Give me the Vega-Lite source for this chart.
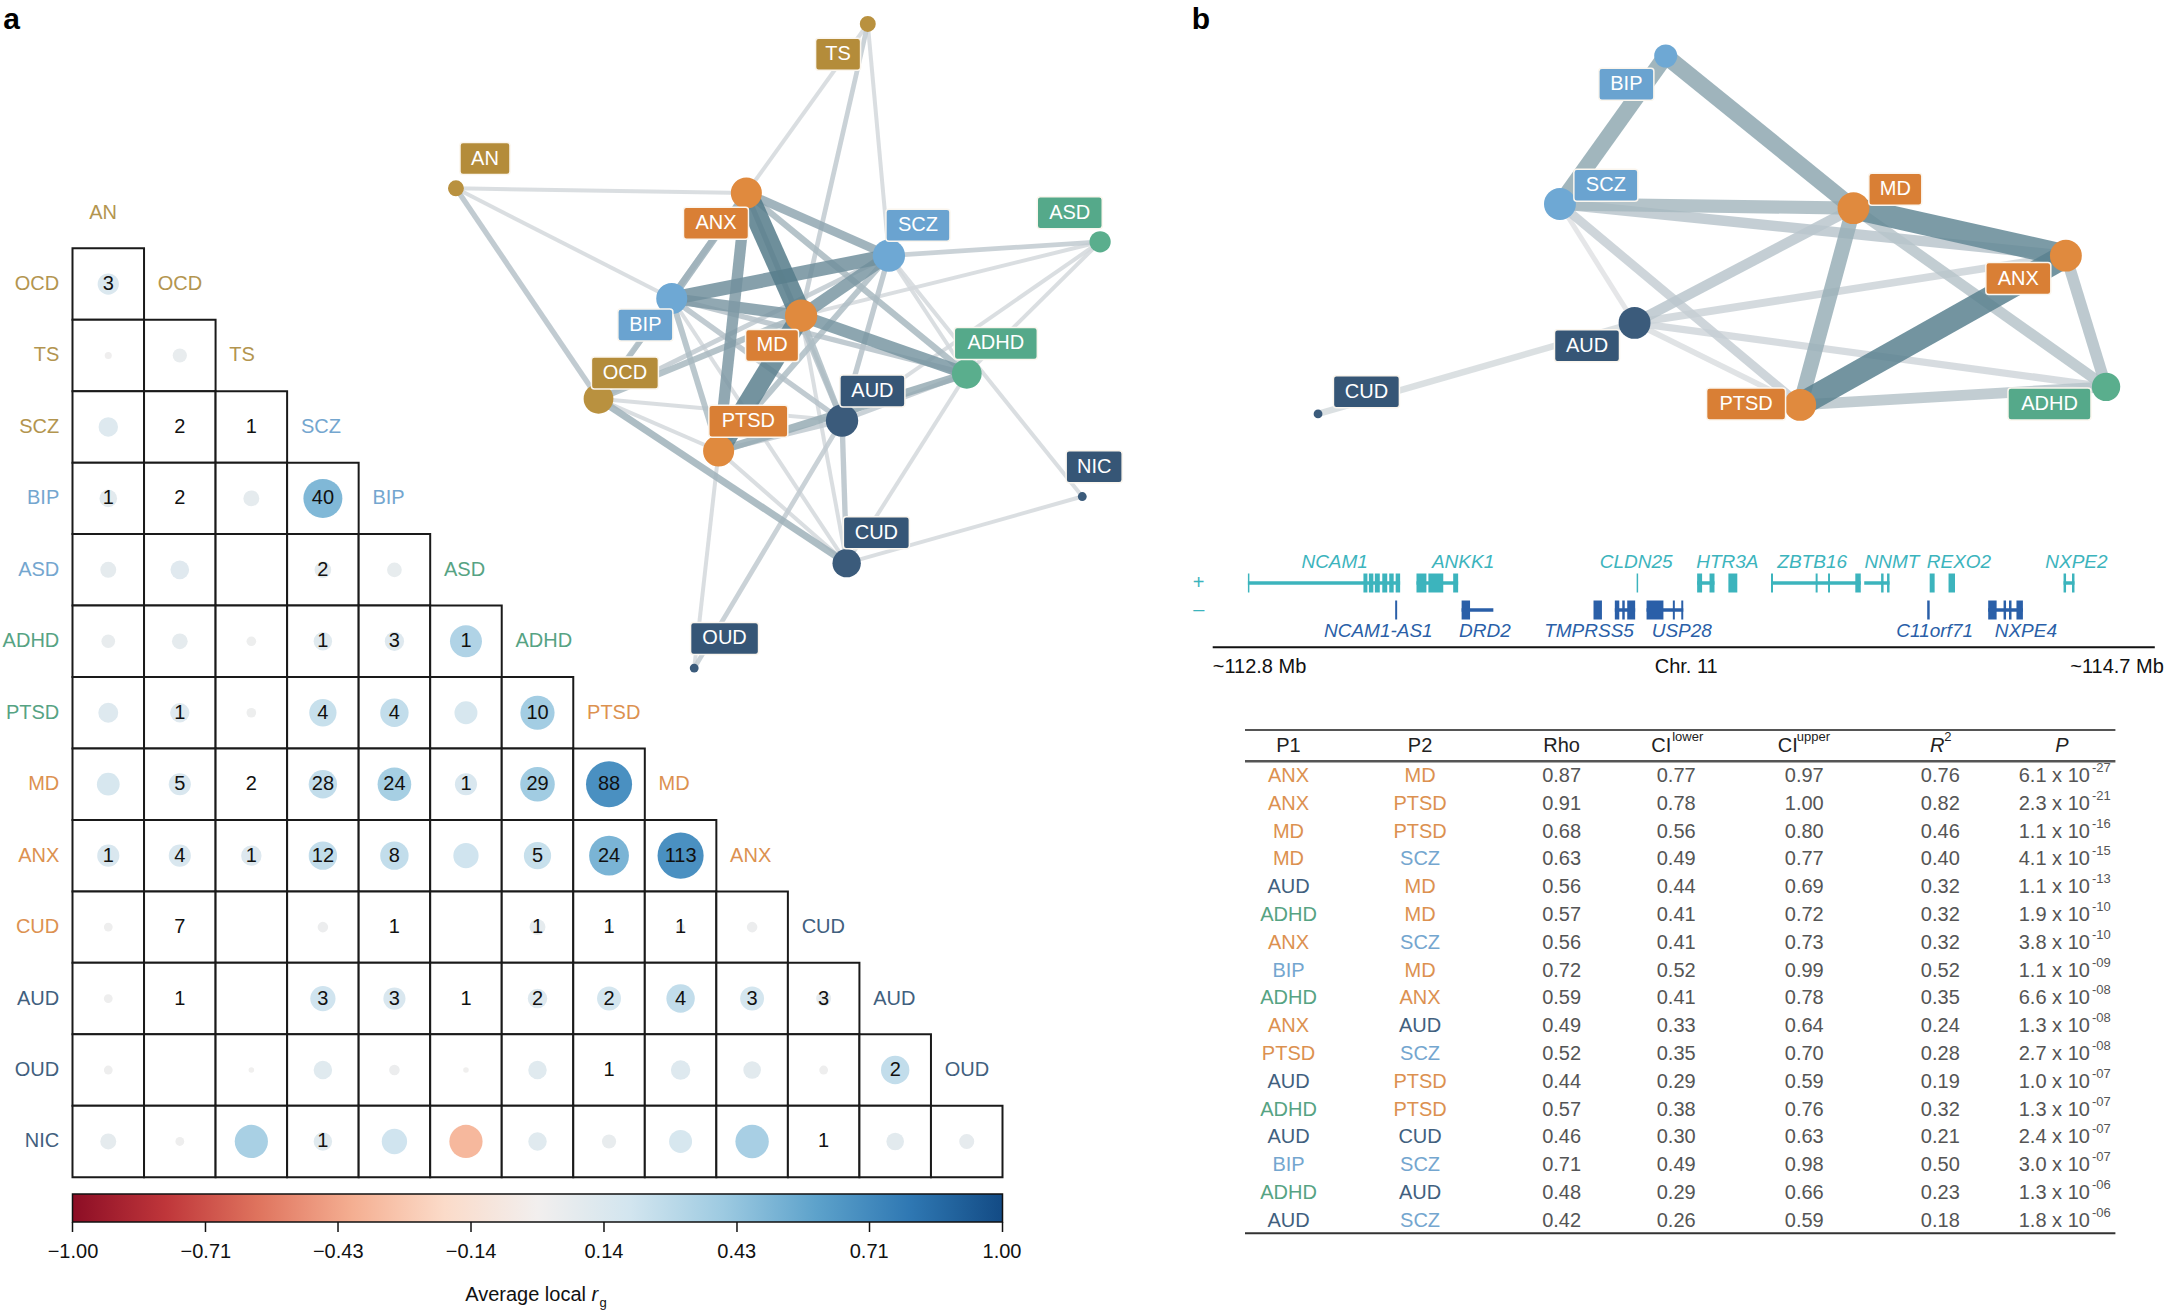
{
"$schema": "https://vega.github.io/schema/vega-lite/v6.json",
"width": 2166, "height": 1312,
"autosize": {"type": "fit", "contains": "padding"},
"padding": 0,
"background": "white",
"config": {"view": {"stroke": null}, "font": "Liberation Sans"},
"datasets": {
"cells": [
{"row":"OCD","col":"AN","n":3,"rg":0.146},
{"row":"TS","col":"AN","n":null,"rg":0.016},
{"row":"TS","col":"OCD","n":null,"rg":0.065},
{"row":"SCZ","col":"AN","n":null,"rg":0.122},
{"row":"SCZ","col":"OCD","n":2,"rg":0.005},
{"row":"SCZ","col":"TS","n":1,"rg":0.004},
{"row":"BIP","col":"AN","n":1,"rg":0.1},
{"row":"BIP","col":"OCD","n":2,"rg":0.005},
{"row":"BIP","col":"TS","n":null,"rg":0.082},
{"row":"BIP","col":"SCZ","n":40,"rg":0.49},
{"row":"ASD","col":"AN","n":null,"rg":0.082},
{"row":"ASD","col":"OCD","n":null,"rg":0.112},
{"row":"ASD","col":"TS","n":null,"rg":null},
{"row":"ASD","col":"SCZ","n":2,"rg":0.09},
{"row":"ASD","col":"BIP","n":null,"rg":0.07},
{"row":"ADHD","col":"AN","n":null,"rg":0.06},
{"row":"ADHD","col":"OCD","n":null,"rg":0.08},
{"row":"ADHD","col":"TS","n":null,"rg":0.03},
{"row":"ADHD","col":"SCZ","n":1,"rg":0.11},
{"row":"ADHD","col":"BIP","n":3,"rg":0.12},
{"row":"ADHD","col":"ASD","n":1,"rg":0.33},
{"row":"PTSD","col":"AN","n":null,"rg":0.128},
{"row":"PTSD","col":"OCD","n":1,"rg":0.12},
{"row":"PTSD","col":"TS","n":null,"rg":0.03},
{"row":"PTSD","col":"SCZ","n":4,"rg":0.24},
{"row":"PTSD","col":"BIP","n":4,"rg":0.26},
{"row":"PTSD","col":"ASD","n":null,"rg":0.17},
{"row":"PTSD","col":"ADHD","n":10,"rg":0.377},
{"row":"MD","col":"AN","n":null,"rg":0.167},
{"row":"MD","col":"OCD","n":5,"rg":0.158},
{"row":"MD","col":"TS","n":2,"rg":0.003},
{"row":"MD","col":"SCZ","n":28,"rg":0.26},
{"row":"MD","col":"BIP","n":24,"rg":0.365},
{"row":"MD","col":"ASD","n":1,"rg":0.158},
{"row":"MD","col":"ADHD","n":29,"rg":0.385},
{"row":"MD","col":"PTSD","n":88,"rg":0.685},
{"row":"ANX","col":"AN","n":1,"rg":0.158},
{"row":"ANX","col":"OCD","n":4,"rg":0.158},
{"row":"ANX","col":"TS","n":1,"rg":0.134},
{"row":"ANX","col":"SCZ","n":12,"rg":0.26},
{"row":"ANX","col":"BIP","n":8,"rg":0.26},
{"row":"ANX","col":"ASD","n":null,"rg":0.206},
{"row":"ANX","col":"ADHD","n":5,"rg":0.24},
{"row":"ANX","col":"PTSD","n":24,"rg":0.51},
{"row":"ANX","col":"MD","n":113,"rg":0.685},
{"row":"CUD","col":"AN","n":null,"rg":0.025},
{"row":"CUD","col":"OCD","n":7,"rg":0.003},
{"row":"CUD","col":"TS","n":null,"rg":null},
{"row":"CUD","col":"SCZ","n":null,"rg":0.036},
{"row":"CUD","col":"BIP","n":1,"rg":0.003},
{"row":"CUD","col":"ASD","n":null,"rg":null},
{"row":"CUD","col":"ADHD","n":1,"rg":0.082},
{"row":"CUD","col":"PTSD","n":1,"rg":0.01},
{"row":"CUD","col":"MD","n":1,"rg":0.02},
{"row":"CUD","col":"ANX","n":null,"rg":0.036},
{"row":"AUD","col":"AN","n":null,"rg":0.025},
{"row":"AUD","col":"OCD","n":1,"rg":0.003},
{"row":"AUD","col":"TS","n":null,"rg":null},
{"row":"AUD","col":"SCZ","n":3,"rg":0.206},
{"row":"AUD","col":"BIP","n":3,"rg":0.158},
{"row":"AUD","col":"ASD","n":1,"rg":0.003},
{"row":"AUD","col":"ADHD","n":2,"rg":0.122},
{"row":"AUD","col":"PTSD","n":2,"rg":0.185},
{"row":"AUD","col":"MD","n":4,"rg":0.26},
{"row":"AUD","col":"ANX","n":3,"rg":0.185},
{"row":"AUD","col":"CUD","n":3,"rg":0.073},
{"row":"OUD","col":"AN","n":null,"rg":0.025},
{"row":"OUD","col":"OCD","n":null,"rg":null},
{"row":"OUD","col":"TS","n":null,"rg":0.01},
{"row":"OUD","col":"SCZ","n":null,"rg":0.11},
{"row":"OUD","col":"BIP","n":null,"rg":0.036},
{"row":"OUD","col":"ASD","n":null,"rg":0.01},
{"row":"OUD","col":"ADHD","n":null,"rg":0.11},
{"row":"OUD","col":"PTSD","n":1,"rg":0.003},
{"row":"OUD","col":"MD","n":null,"rg":0.122},
{"row":"OUD","col":"ANX","n":null,"rg":0.1},
{"row":"OUD","col":"CUD","n":null,"rg":0.025},
{"row":"OUD","col":"AUD","n":2,"rg":0.26},
{"row":"NIC","col":"AN","n":null,"rg":0.082},
{"row":"NIC","col":"OCD","n":null,"rg":0.025},
{"row":"NIC","col":"TS","n":null,"rg":0.356},
{"row":"NIC","col":"SCZ","n":1,"rg":0.11},
{"row":"NIC","col":"BIP","n":null,"rg":0.207},
{"row":"NIC","col":"ASD","n":null,"rg":-0.356},
{"row":"NIC","col":"ADHD","n":null,"rg":0.11},
{"row":"NIC","col":"PTSD","n":null,"rg":0.065},
{"row":"NIC","col":"MD","n":null,"rg":0.17},
{"row":"NIC","col":"ANX","n":null,"rg":0.36},
{"row":"NIC","col":"CUD","n":1,"rg":0.003},
{"row":"NIC","col":"AUD","n":null,"rg":0.1},
{"row":"NIC","col":"OUD","n":null,"rg":0.073}
],
"nodesA": [
{"id":"TS","x":63.3,"y":0.6,"lx":58.8,"ly":5.2,"deg":3},
{"id":"AN","x":0.9,"y":25.5,"lx":5.3,"ly":21.0,"deg":3},
{"id":"ANX","x":44.9,"y":26.2,"lx":40.3,"ly":30.8,"deg":9},
{"id":"SCZ","x":66.5,"y":35.7,"lx":70.9,"ly":31.1,"deg":10},
{"id":"ASD","x":98.5,"y":33.6,"lx":93.9,"ly":29.2,"deg":4},
{"id":"BIP","x":33.6,"y":42.2,"lx":29.6,"ly":46.2,"deg":9},
{"id":"MD","x":53.2,"y":44.8,"lx":48.8,"ly":49.3,"deg":10},
{"id":"ADHD","x":78.3,"y":53.6,"lx":82.7,"ly":49.0,"deg":8},
{"id":"OCD","x":22.5,"y":57.4,"lx":26.5,"ly":53.5,"deg":8},
{"id":"AUD","x":59.4,"y":60.7,"lx":64.0,"ly":56.2,"deg":10},
{"id":"PTSD","x":40.7,"y":65.3,"lx":45.2,"ly":60.8,"deg":9},
{"id":"NIC","x":95.8,"y":72.2,"lx":97.6,"ly":67.7,"deg":2},
{"id":"CUD","x":60.1,"y":82.3,"lx":64.6,"ly":77.7,"deg":7},
{"id":"OUD","x":37.0,"y":98.2,"lx":41.6,"ly":93.7,"deg":2}
],
"nodesB": [
{"id":"BIP","x":44.6,"y":1.95,"lx":39.8,"ly":5.4,"deg":2},
{"id":"SCZ","x":31.7,"y":20.0,"lx":37.3,"ly":17.7,"deg":5},
{"id":"MD","x":67.5,"y":20.5,"lx":72.6,"ly":18.2,"deg":6},
{"id":"ANX","x":93.4,"y":26.3,"lx":87.6,"ly":29.1,"deg":5},
{"id":"AUD","x":40.8,"y":34.5,"lx":35.0,"ly":37.3,"deg":6},
{"id":"ADHD","x":98.3,"y":42.3,"lx":91.4,"ly":44.4,"deg":4},
{"id":"PTSD","x":61.0,"y":44.5,"lx":54.4,"ly":44.4,"deg":5},
{"id":"CUD","x":2.2,"y":45.6,"lx":8.1,"ly":42.9,"deg":1}
],
"tbl": [
{"p1":"ANX","p2":"MD","rho":0.87,"lo":0.77,"hi":0.97,"r2":0.76,"pm":6.1,"pe":-27},
{"p1":"ANX","p2":"PTSD","rho":0.91,"lo":0.78,"hi":1.00,"r2":0.82,"pm":2.3,"pe":-21},
{"p1":"MD","p2":"PTSD","rho":0.68,"lo":0.56,"hi":0.80,"r2":0.46,"pm":1.1,"pe":-16},
{"p1":"MD","p2":"SCZ","rho":0.63,"lo":0.49,"hi":0.77,"r2":0.40,"pm":4.1,"pe":-15},
{"p1":"AUD","p2":"MD","rho":0.56,"lo":0.44,"hi":0.69,"r2":0.32,"pm":1.1,"pe":-13},
{"p1":"ADHD","p2":"MD","rho":0.57,"lo":0.41,"hi":0.72,"r2":0.32,"pm":1.9,"pe":-10},
{"p1":"ANX","p2":"SCZ","rho":0.56,"lo":0.41,"hi":0.73,"r2":0.32,"pm":3.8,"pe":-10},
{"p1":"BIP","p2":"MD","rho":0.72,"lo":0.52,"hi":0.99,"r2":0.52,"pm":1.1,"pe":-9},
{"p1":"ADHD","p2":"ANX","rho":0.59,"lo":0.41,"hi":0.78,"r2":0.35,"pm":6.6,"pe":-8},
{"p1":"ANX","p2":"AUD","rho":0.49,"lo":0.33,"hi":0.64,"r2":0.24,"pm":1.3,"pe":-8},
{"p1":"PTSD","p2":"SCZ","rho":0.52,"lo":0.35,"hi":0.70,"r2":0.28,"pm":2.7,"pe":-8},
{"p1":"AUD","p2":"PTSD","rho":0.44,"lo":0.29,"hi":0.59,"r2":0.19,"pm":1.0,"pe":-7},
{"p1":"ADHD","p2":"PTSD","rho":0.57,"lo":0.38,"hi":0.76,"r2":0.32,"pm":1.3,"pe":-7},
{"p1":"AUD","p2":"CUD","rho":0.46,"lo":0.30,"hi":0.63,"r2":0.21,"pm":2.4,"pe":-7},
{"p1":"BIP","p2":"SCZ","rho":0.71,"lo":0.49,"hi":0.98,"r2":0.50,"pm":3.0,"pe":-7},
{"p1":"ADHD","p2":"AUD","rho":0.48,"lo":0.29,"hi":0.66,"r2":0.23,"pm":1.3,"pe":-6},
{"p1":"AUD","p2":"SCZ","rho":0.42,"lo":0.26,"hi":0.59,"r2":0.18,"pm":1.8,"pe":-6}
],
"genes": [
{"gene":"NCAM1","strand":"plus","kind":"line","s":112.871,"e":113.178},
{"gene":"ANKK1","strand":"plus","kind":"line","s":113.211,"e":113.295},
{"gene":"HTR3A","strand":"plus","kind":"line","s":113.777,"e":113.812},
{"gene":"ZBTB16","strand":"plus","kind":"line","s":113.926,"e":114.107},
{"gene":"NNMT","strand":"plus","kind":"line","s":114.114,"e":114.165},
{"gene":"NXPE2","strand":"plus","kind":"line","s":114.516,"e":114.538},
{"gene":"NCAM1","strand":"plus","kind":"exon","s":112.871,"e":112.874},
{"gene":"NCAM1","strand":"plus","kind":"exon","s":113.104,"e":113.112},
{"gene":"NCAM1","strand":"plus","kind":"exon","s":113.115,"e":113.124},
{"gene":"NCAM1","strand":"plus","kind":"exon","s":113.127,"e":113.137},
{"gene":"NCAM1","strand":"plus","kind":"exon","s":113.142,"e":113.152},
{"gene":"NCAM1","strand":"plus","kind":"exon","s":113.156,"e":113.165},
{"gene":"NCAM1","strand":"plus","kind":"exon","s":113.169,"e":113.178},
{"gene":"ANKK1","strand":"plus","kind":"exon","s":113.211,"e":113.231},
{"gene":"ANKK1","strand":"plus","kind":"exon","s":113.235,"e":113.265},
{"gene":"ANKK1","strand":"plus","kind":"exon","s":113.285,"e":113.295},
{"gene":"CLDN25","strand":"plus","kind":"exon","s":113.655,"e":113.658},
{"gene":"HTR3A","strand":"plus","kind":"exon","s":113.777,"e":113.787},
{"gene":"HTR3A","strand":"plus","kind":"exon","s":113.802,"e":113.812},
{"gene":"HTR3B","strand":"plus","kind":"exon","s":113.840,"e":113.858},
{"gene":"ZBTB16","strand":"plus","kind":"exon","s":113.926,"e":113.930},
{"gene":"ZBTB16","strand":"plus","kind":"exon","s":114.016,"e":114.020},
{"gene":"ZBTB16","strand":"plus","kind":"exon","s":114.041,"e":114.045},
{"gene":"ZBTB16","strand":"plus","kind":"exon","s":114.096,"e":114.107},
{"gene":"NNMT","strand":"plus","kind":"exon","s":114.148,"e":114.153},
{"gene":"NNMT","strand":"plus","kind":"exon","s":114.160,"e":114.165},
{"gene":"REXO2","strand":"plus","kind":"exon","s":114.246,"e":114.256},
{"gene":"REXO2","strand":"plus","kind":"exon","s":114.284,"e":114.297},
{"gene":"NXPE2","strand":"plus","kind":"exon","s":114.516,"e":114.521},
{"gene":"NXPE2","strand":"plus","kind":"exon","s":114.533,"e":114.538},
{"gene":"DRD2","strand":"minus","kind":"line","s":113.302,"e":113.366},
{"gene":"TMPRSS5","strand":"minus","kind":"line","s":113.611,"e":113.652},
{"gene":"USP28","strand":"minus","kind":"line","s":113.675,"e":113.749},
{"gene":"NXPE4","strand":"minus","kind":"line","s":114.364,"e":114.434},
{"gene":"NCAM1-AS1","strand":"minus","kind":"exon","s":113.168,"e":113.172},
{"gene":"DRD2","strand":"minus","kind":"exon","s":113.302,"e":113.319},
{"gene":"TMPRSS5","strand":"minus","kind":"exon","s":113.568,"e":113.585},
{"gene":"TMPRSS5","strand":"minus","kind":"exon","s":113.611,"e":113.620},
{"gene":"TMPRSS5","strand":"minus","kind":"exon","s":113.626,"e":113.631},
{"gene":"TMPRSS5","strand":"minus","kind":"exon","s":113.636,"e":113.652},
{"gene":"USP28","strand":"minus","kind":"exon","s":113.675,"e":113.709},
{"gene":"USP28","strand":"minus","kind":"exon","s":113.728,"e":113.732},
{"gene":"USP28","strand":"minus","kind":"exon","s":113.745,"e":113.749},
{"gene":"C11orf71","strand":"minus","kind":"exon","s":114.241,"e":114.246},
{"gene":"NXPE4","strand":"minus","kind":"exon","s":114.364,"e":114.381},
{"gene":"NXPE4","strand":"minus","kind":"exon","s":114.395,"e":114.400},
{"gene":"NXPE4","strand":"minus","kind":"exon","s":114.406,"e":114.411},
{"gene":"NXPE4","strand":"minus","kind":"exon","s":114.421,"e":114.434}
],
"geneLabels": [
{"gene":"NCAM1","strand":"plus","pos":113.046},
{"gene":"ANKK1","strand":"plus","pos":113.305},
{"gene":"CLDN25","strand":"plus","pos":113.654},
{"gene":"HTR3A","strand":"plus","pos":113.838},
{"gene":"ZBTB16","strand":"plus","pos":114.009},
{"gene":"NNMT","strand":"plus","pos":114.170},
{"gene":"REXO2","strand":"plus","pos":114.305},
{"gene":"NXPE2","strand":"plus","pos":114.542},
{"gene":"NCAM1-AS1","strand":"minus","pos":113.134},
{"gene":"DRD2","strand":"minus","pos":113.349},
{"gene":"TMPRSS5","strand":"minus","pos":113.559},
{"gene":"USP28","strand":"minus","pos":113.746},
{"gene":"C11orf71","strand":"minus","pos":114.256},
{"gene":"NXPE4","strand":"minus","pos":114.440}
],
"barTicks": [{"v": -1}, {"v": -0.714}, {"v": -0.429}, {"v": -0.143}, {"v": 0.143}, {"v": 0.429}, {"v": 0.714}, {"v": 1}]
},
"resolve": {"scale": {"x": "independent", "y": "independent", "color": "independent", "size": "independent", "strokeWidth": "independent", "shape": "independent"}},
"layer": [
{
"resolve": {"scale": {"color": "independent"}},
"layer": [
{"data": {"name": "cells"},
 "mark": {"type": "rect", "fill": "white", "stroke": "#1a1a1a", "strokeWidth": 2},
 "encoding": {
  "x": {"field": "col", "type": "nominal", "axis": null, "scale": {"type": "band", "domain": ["AN","OCD","TS","SCZ","BIP","ASD","ADHD","PTSD","MD","ANX","CUD","AUD","OUD"], "range": [72.5, 1002.5], "paddingInner": 0, "paddingOuter": 0}},
  "y": {"field": "row", "type": "nominal", "axis": null, "scale": {"type": "band", "domain": ["OCD","TS","SCZ","BIP","ASD","ADHD","PTSD","MD","ANX","CUD","AUD","OUD","NIC"], "range": [248.3, 1177.2], "paddingInner": 0, "paddingOuter": 0}}
 }},
{"data": {"name": "cells"},
 "transform": [{"filter": "isValid(datum.rg)"}, {"calculate": "abs(datum.rg)", "as": "mag"}],
 "mark": {"type": "circle", "opacity": 1},
 "encoding": {
  "x": {"field": "col", "type": "nominal", "axis": null, "scale": {"type": "band", "domain": ["AN","OCD","TS","SCZ","BIP","ASD","ADHD","PTSD","MD","ANX","CUD","AUD","OUD"], "range": [72.5, 1002.5], "paddingInner": 0, "paddingOuter": 0}},
  "y": {"field": "row", "type": "nominal", "axis": null, "scale": {"type": "band", "domain": ["OCD","TS","SCZ","BIP","ASD","ADHD","PTSD","MD","ANX","CUD","AUD","OUD","NIC"], "range": [248.3, 1177.2], "paddingInner": 0, "paddingOuter": 0}},
  "size": {"field": "mag", "type": "quantitative", "scale": {"domain": [0, 1], "range": [0, 3100]}, "legend": null},
  "color": {"field": "rg", "type": "quantitative", "scale": {"domain": [-1.001, 1.001], "scheme": "redblue"},
   "legend": {"orient": "none", "legendX": 72.5, "legendY": 1194, "direction": "horizontal", "gradientLength": 930, "gradientThickness": 28, "gradientStrokeColor": "#111", "gradientStrokeWidth": 1.5, "values": [-1, -0.714, -0.429, -0.143, 0.143, 0.429, 0.714, 1], "format": ".2f", "labelFontSize": 20, "labelColor": "#111", "labelOffset": 20, "labelOverlap": false, "title": null, "padding": 0}}
 }},
{"data": {"name": "cells"},
 "transform": [{"filter": "isValid(datum.n)"}],
 "mark": {"type": "text", "fontSize": 20, "color": "#111"},
 "encoding": {
  "x": {"field": "col", "type": "nominal", "axis": null, "scale": {"type": "band", "domain": ["AN","OCD","TS","SCZ","BIP","ASD","ADHD","PTSD","MD","ANX","CUD","AUD","OUD"], "range": [72.5, 1002.5], "paddingInner": 0, "paddingOuter": 0}},
  "y": {"field": "row", "type": "nominal", "axis": null, "scale": {"type": "band", "domain": ["OCD","TS","SCZ","BIP","ASD","ADHD","PTSD","MD","ANX","CUD","AUD","OUD","NIC"], "range": [248.3, 1177.2], "paddingInner": 0, "paddingOuter": 0}},
  "text": {"field": "n", "type": "quantitative"}
 }},
{"data": {"name": "cells"},
 "transform": [{"filter": "datum.col == 'AN'"}],
 "mark": {"type": "text", "fontSize": 20, "align": "right", "dx": -49},
 "encoding": {
  "x": {"field": "col", "type": "nominal", "axis": null, "scale": {"type": "band", "domain": ["AN","OCD","TS","SCZ","BIP","ASD","ADHD","PTSD","MD","ANX","CUD","AUD","OUD"], "range": [72.5, 1002.5], "paddingInner": 0, "paddingOuter": 0}},
  "y": {"field": "row", "type": "nominal", "axis": null, "scale": {"type": "band", "domain": ["OCD","TS","SCZ","BIP","ASD","ADHD","PTSD","MD","ANX","CUD","AUD","OUD","NIC"], "range": [248.3, 1177.2], "paddingInner": 0, "paddingOuter": 0}},
  "text": {"field": "row"},
  "color": {"field": "row", "type": "nominal", "legend": null, "scale": {"domain": ["OCD","TS","SCZ","BIP","ASD","ADHD","PTSD","MD","ANX","CUD","AUD","OUD","NIC"], "range": ["#b3954f","#b3954f","#b3954f","#74a6cf","#74a6cf","#56a383","#56a383","#dc9150","#dc9150","#dc9150","#41607e","#41607e","#41607e"]}}
 }},
{"data": {"name": "cells"},
 "transform": [{"filter": "datum.row == 'NIC' && datum.col != 'AN'"}],
 "mark": {"type": "text", "fontSize": 20, "align": "left", "dx": -22},
 "encoding": {
  "x": {"field": "col", "type": "nominal", "axis": null, "scale": {"type": "band", "domain": ["AN","OCD","TS","SCZ","BIP","ASD","ADHD","PTSD","MD","ANX","CUD","AUD","OUD"], "range": [72.5, 1002.5], "paddingInner": 0, "paddingOuter": 0}},
  "y": {"field": "col", "type": "nominal", "axis": null, "scale": {"type": "band", "domain": ["OCD","TS","SCZ","BIP","ASD","ADHD","PTSD","MD","ANX","CUD","AUD","OUD","NIC"], "range": [248.3, 1177.2], "paddingInner": 0, "paddingOuter": 0}},
  "text": {"field": "col"},
  "color": {"field": "col", "type": "nominal", "legend": null, "scale": {"domain": ["AN","OCD","TS","SCZ","BIP","ASD","ADHD","PTSD","MD","ANX","CUD","AUD","OUD","NIC"], "range": ["#b3954f","#b3954f","#b3954f","#74a6cf","#74a6cf","#56a383","#56a383","#dc9150","#dc9150","#dc9150","#41607e","#41607e","#41607e","#41607e"]}}
 }},
{"data": {"name": "cells"},
 "transform": [{"filter": "datum.row == 'OCD' && datum.col == 'AN'"}],
 "mark": {"type": "text", "fontSize": 20, "align": "left", "dx": -19, "dy": -71.5, "color": "#b3954f"},
 "encoding": {
  "x": {"field": "col", "type": "nominal", "axis": null, "scale": {"type": "band", "domain": ["AN","OCD","TS","SCZ","BIP","ASD","ADHD","PTSD","MD","ANX","CUD","AUD","OUD"], "range": [72.5, 1002.5], "paddingInner": 0, "paddingOuter": 0}},
  "y": {"field": "row", "type": "nominal", "axis": null, "scale": {"type": "band", "domain": ["OCD","TS","SCZ","BIP","ASD","ADHD","PTSD","MD","ANX","CUD","AUD","OUD","NIC"], "range": [248.3, 1177.2], "paddingInner": 0, "paddingOuter": 0}},
  "text": {"field": "col"}
 }}
]
},
{
"layer": [
{"data": {"name": "barTicks"},
 "mark": {"type": "rule", "strokeWidth": 1.5, "color": "#111"},
 "encoding": {
  "x": {"field": "v", "type": "quantitative", "axis": null, "scale": {"domain": [-1, 1], "range": [72.5, 1002.5], "nice": false, "zero": false}},
  "y": {"datum": 0, "type": "quantitative", "axis": null, "scale": {"domain": [0, 1], "range": [1222, 1232], "nice": false, "zero": false}},
  "y2": {"datum": 1}
 }},
{"data": {"values": [{"t": "Average local"}]},
 "mark": {"type": "text", "fontSize": 20, "align": "right", "dx": 48.5, "color": "#111"},
 "encoding": {
  "x": {"datum": 0, "type": "quantitative", "axis": null, "scale": {"domain": [-1, 1], "range": [72.5, 1002.5], "nice": false, "zero": false}},
  "y": {"datum": 7.3, "type": "quantitative", "axis": null, "scale": {"domain": [0, 1], "range": [1222, 1232], "nice": false, "zero": false}},
  "text": {"field": "t"}
 }},
{"data": {"values": [{"t": "r"}]},
 "mark": {"type": "text", "fontSize": 20, "fontStyle": "italic", "align": "left", "dx": 54, "color": "#111"},
 "encoding": {
  "x": {"datum": 0, "type": "quantitative", "axis": null, "scale": {"domain": [-1, 1], "range": [72.5, 1002.5], "nice": false, "zero": false}},
  "y": {"datum": 7.3, "type": "quantitative", "axis": null, "scale": {"domain": [0, 1], "range": [1222, 1232], "nice": false, "zero": false}},
  "text": {"field": "t"}
 }},
{"data": {"values": [{"t": "g"}]},
 "mark": {"type": "text", "fontSize": 13, "align": "left", "dx": 62, "color": "#111"},
 "encoding": {
  "x": {"datum": 0, "type": "quantitative", "axis": null, "scale": {"domain": [-1, 1], "range": [72.5, 1002.5], "nice": false, "zero": false}},
  "y": {"datum": 8.1, "type": "quantitative", "axis": null, "scale": {"domain": [0, 1], "range": [1222, 1232], "nice": false, "zero": false}},
  "text": {"field": "t"}
 }}
]
},
{
"resolve": {"scale": {"color": "independent", "size": "independent"}},
"layer": [
{"data": {"name": "cells"},
 "transform": [{"filter": "isValid(datum.n)"},
  {"lookup": "row", "from": {"data": {"name": "nodesA"}, "key": "id", "fields": ["x", "y"]}, "as": ["rx", "ry"]},
  {"lookup": "col", "from": {"data": {"name": "nodesA"}, "key": "id", "fields": ["x", "y"]}, "as": ["cx", "cy"]}],
 "mark": {"type": "rule", "opacity": 0.85, "strokeCap": "butt"},
 "encoding": {
  "x": {"field": "rx", "type": "quantitative", "axis": null, "scale": {"domain": [0, 100], "range": [450, 1110], "nice": false, "zero": false}},
  "y": {"field": "ry", "type": "quantitative", "axis": null, "scale": {"domain": [0, 100], "range": [20, 680], "nice": false, "zero": false}},
  "x2": {"field": "cx"}, "y2": {"field": "cy"},
  "strokeWidth": {"field": "n", "type": "quantitative", "legend": null, "scale": {"type": "sqrt", "domain": [1, 113], "range": [4, 22], "zero": false}},
  "color": {"field": "n", "type": "quantitative", "legend": null, "scale": {"type": "log", "domain": [1, 113], "range": ["#d3d8dc", "#557b8a"], "interpolate": "rgb"}},
  "order": {"field": "n", "type": "quantitative"}
 }},
{"data": {"name": "nodesA"},
 "mark": {"type": "circle", "opacity": 1},
 "encoding": {
  "x": {"field": "x", "type": "quantitative", "axis": null, "scale": {"domain": [0, 100], "range": [450, 1110], "nice": false, "zero": false}},
  "y": {"field": "y", "type": "quantitative", "axis": null, "scale": {"domain": [0, 100], "range": [20, 680], "nice": false, "zero": false}},
  "color": {"field": "id", "type": "nominal", "legend": null, "scale": {"domain": ["AN","OCD","TS","SCZ","BIP","ASD","ADHD","PTSD","MD","ANX","CUD","AUD","OUD","NIC"], "range": ["#b9913f","#b9913f","#b9913f","#6ea8d4","#6ea8d4","#5aae8d","#5aae8d","#e08a3e","#e08a3e","#e08a3e","#3b5b7b","#3b5b7b","#3b5b7b","#3b5b7b"]}},
  "size": {"field": "deg", "type": "quantitative", "legend": null, "scale": {"domain": [2, 3, 4, 7, 10], "range": [78, 254, 452, 804, 1046]}}
 }},
{"data": {"name": "nodesA"},
 "mark": {"type": "point", "filled": true, "size": 1600, "opacity": 1, "stroke": "#fbf6ee", "strokeWidth": 1.5, "strokeOpacity": 1},
 "encoding": {
  "x": {"field": "lx", "type": "quantitative", "axis": null, "scale": {"domain": [0, 100], "range": [450, 1110], "nice": false, "zero": false}},
  "y": {"field": "ly", "type": "quantitative", "axis": null, "scale": {"domain": [0, 100], "range": [20, 680], "nice": false, "zero": false}},
  "color": {"field": "id", "type": "nominal", "legend": null, "scale": {"domain": ["AN","OCD","TS","SCZ","BIP","ASD","ADHD","PTSD","MD","ANX","CUD","AUD","OUD","NIC"], "range": ["#b48c3a","#b48c3a","#b48c3a","#6aa3d0","#6aa3d0","#55a98a","#55a98a","#d97f35","#d97f35","#d97f35","#365676","#365676","#365676","#365676"]}},
  "shape": {"field": "id", "type": "nominal", "legend": null, "scale": {"domain": ["AN","OCD","TS","SCZ","BIP","ASD","ADHD","PTSD","MD","ANX","CUD","AUD","OUD","NIC"], "range": [
   "M-1.1,-0.8H1.1Q1.25,-0.8 1.25,-0.65V0.65Q1.25,0.8 1.1,0.8H-1.1Q-1.25,0.8 -1.25,0.65V-0.65Q-1.25,-0.8 -1.1,-0.8Z",
   "M-1.525,-0.8H1.525Q1.675,-0.8 1.675,-0.65V0.65Q1.675,0.8 1.525,0.8H-1.525Q-1.675,0.8 -1.675,0.65V-0.65Q-1.675,-0.8 -1.525,-0.8Z",
   "M-0.975,-0.8H0.975Q1.125,-0.8 1.125,-0.65V0.65Q1.125,0.8 0.975,0.8H-0.975Q-1.125,0.8 -1.125,0.65V-0.65Q-1.125,-0.8 -0.975,-0.8Z",
   "M-1.45,-0.8H1.45Q1.6,-0.8 1.6,-0.65V0.65Q1.6,0.8 1.45,0.8H-1.45Q-1.6,0.8 -1.6,0.65V-0.65Q-1.6,-0.8 -1.45,-0.8Z",
   "M-1.225,-0.8H1.225Q1.375,-0.8 1.375,-0.65V0.65Q1.375,0.8 1.225,0.8H-1.225Q-1.375,0.8 -1.375,0.65V-0.65Q-1.375,-0.8 -1.225,-0.8Z",
   "M-1.475,-0.8H1.475Q1.625,-0.8 1.625,-0.65V0.65Q1.625,0.8 1.475,0.8H-1.475Q-1.625,0.8 -1.625,0.65V-0.65Q-1.625,-0.8 -1.475,-0.8Z",
   "M-1.925,-0.8H1.925Q2.075,-0.8 2.075,-0.65V0.65Q2.075,0.8 1.925,0.8H-1.925Q-2.075,0.8 -2.075,0.65V-0.65Q-2.075,-0.8 -1.925,-0.8Z",
   "M-1.825,-0.8H1.825Q1.975,-0.8 1.975,-0.65V0.65Q1.975,0.8 1.825,0.8H-1.825Q-1.975,0.8 -1.975,0.65V-0.65Q-1.975,-0.8 -1.825,-0.8Z",
   "M-1.175,-0.8H1.175Q1.325,-0.8 1.325,-0.65V0.65Q1.325,0.8 1.175,0.8H-1.175Q-1.325,0.8 -1.325,0.65V-0.65Q-1.325,-0.8 -1.175,-0.8Z",
   "M-1.475,-0.8H1.475Q1.625,-0.8 1.625,-0.65V0.65Q1.625,0.8 1.475,0.8H-1.475Q-1.625,0.8 -1.625,0.65V-0.65Q-1.625,-0.8 -1.475,-0.8Z",
   "M-1.5,-0.8H1.5Q1.65,-0.8 1.65,-0.65V0.65Q1.65,0.8 1.5,0.8H-1.5Q-1.65,0.8 -1.65,0.65V-0.65Q-1.65,-0.8 -1.5,-0.8Z",
   "M-1.475,-0.8H1.475Q1.625,-0.8 1.625,-0.65V0.65Q1.625,0.8 1.475,0.8H-1.475Q-1.625,0.8 -1.625,0.65V-0.65Q-1.625,-0.8 -1.475,-0.8Z",
   "M-1.55,-0.8H1.55Q1.7,-0.8 1.7,-0.65V0.65Q1.7,0.8 1.55,0.8H-1.55Q-1.7,0.8 -1.7,0.65V-0.65Q-1.7,-0.8 -1.55,-0.8Z",
   "M-1.25,-0.8H1.25Q1.4,-0.8 1.4,-0.65V0.65Q1.4,0.8 1.25,0.8H-1.25Q-1.4,0.8 -1.4,0.65V-0.65Q-1.4,-0.8 -1.25,-0.8Z"]}}
 }},
{"data": {"name": "nodesA"},
 "mark": {"type": "text", "fontSize": 20, "color": "white"},
 "encoding": {
  "x": {"field": "lx", "type": "quantitative", "axis": null, "scale": {"domain": [0, 100], "range": [450, 1110], "nice": false, "zero": false}},
  "y": {"field": "ly", "type": "quantitative", "axis": null, "scale": {"domain": [0, 100], "range": [20, 680], "nice": false, "zero": false}},
  "text": {"field": "id"}
 }},
{"data": {"values": [{"t": "a"}]},
 "mark": {"type": "text", "fontSize": 30, "fontWeight": "bold", "align": "left", "baseline": "alphabetic", "color": "black"},
 "encoding": {
  "x": {"datum": -67.7, "type": "quantitative", "axis": null, "scale": {"domain": [0, 100], "range": [450, 1110], "nice": false, "zero": false}},
  "y": {"datum": 1.36, "type": "quantitative", "axis": null, "scale": {"domain": [0, 100], "range": [20, 680], "nice": false, "zero": false}},
  "text": {"field": "t"}
 }}
]
},
{
"resolve": {"scale": {"color": "independent", "size": "independent"}},
"layer": [
{"data": {"name": "tbl"},
 "transform": [
  {"lookup": "p1", "from": {"data": {"name": "nodesB"}, "key": "id", "fields": ["x", "y"]}, "as": ["ax", "ay"]},
  {"lookup": "p2", "from": {"data": {"name": "nodesB"}, "key": "id", "fields": ["x", "y"]}, "as": ["bx", "by"]}],
 "mark": {"type": "rule", "opacity": 0.85, "strokeCap": "butt"},
 "encoding": {
  "x": {"field": "ax", "type": "quantitative", "axis": null, "scale": {"domain": [0, 100], "range": [1300, 2120], "nice": false, "zero": false}},
  "y": {"field": "ay", "type": "quantitative", "axis": null, "scale": {"domain": [0, 100], "range": [40, 860], "nice": false, "zero": false}},
  "x2": {"field": "bx"}, "y2": {"field": "by"},
  "strokeWidth": {"field": "rho", "type": "quantitative", "legend": null, "scale": {"domain": [0.42, 0.91], "range": [5, 24], "zero": false}},
  "color": {"field": "rho", "type": "quantitative", "legend": null, "scale": {"domain": [0.42, 0.91], "range": ["#e0e2e4", "#5a818f"], "interpolate": "rgb"}},
  "order": {"field": "rho", "type": "quantitative"}
 }},
{"data": {"name": "nodesB"},
 "mark": {"type": "circle", "opacity": 1},
 "encoding": {
  "x": {"field": "x", "type": "quantitative", "axis": null, "scale": {"domain": [0, 100], "range": [1300, 2120], "nice": false, "zero": false}},
  "y": {"field": "y", "type": "quantitative", "axis": null, "scale": {"domain": [0, 100], "range": [40, 860], "nice": false, "zero": false}},
  "color": {"field": "id", "type": "nominal", "legend": null, "scale": {"domain": ["AN","OCD","TS","SCZ","BIP","ASD","ADHD","PTSD","MD","ANX","CUD","AUD","OUD","NIC"], "range": ["#b9913f","#b9913f","#b9913f","#6ea8d4","#6ea8d4","#5aae8d","#5aae8d","#e08a3e","#e08a3e","#e08a3e","#3b5b7b","#3b5b7b","#3b5b7b","#3b5b7b"]}},
  "size": {"field": "deg", "type": "quantitative", "legend": null, "scale": {"domain": [1, 2, 4, 5, 6], "range": [78, 530, 804, 1018, 1018]}}
 }},
{"data": {"name": "nodesB"},
 "mark": {"type": "point", "filled": true, "size": 1600, "opacity": 1, "stroke": "#fbf6ee", "strokeWidth": 1.5, "strokeOpacity": 1},
 "encoding": {
  "x": {"field": "lx", "type": "quantitative", "axis": null, "scale": {"domain": [0, 100], "range": [1300, 2120], "nice": false, "zero": false}},
  "y": {"field": "ly", "type": "quantitative", "axis": null, "scale": {"domain": [0, 100], "range": [40, 860], "nice": false, "zero": false}},
  "color": {"field": "id", "type": "nominal", "legend": null, "scale": {"domain": ["AN","OCD","TS","SCZ","BIP","ASD","ADHD","PTSD","MD","ANX","CUD","AUD","OUD","NIC"], "range": ["#b48c3a","#b48c3a","#b48c3a","#6aa3d0","#6aa3d0","#55a98a","#55a98a","#d97f35","#d97f35","#d97f35","#365676","#365676","#365676","#365676"]}},
  "shape": {"field": "id", "type": "nominal", "legend": null, "scale": {"domain": ["AN","OCD","TS","SCZ","BIP","ASD","ADHD","PTSD","MD","ANX","CUD","AUD","OUD","NIC"], "range": [
   "M-1.1,-0.8H1.1Q1.25,-0.8 1.25,-0.65V0.65Q1.25,0.8 1.1,0.8H-1.1Q-1.25,0.8 -1.25,0.65V-0.65Q-1.25,-0.8 -1.1,-0.8Z",
   "M-1.525,-0.8H1.525Q1.675,-0.8 1.675,-0.65V0.65Q1.675,0.8 1.525,0.8H-1.525Q-1.675,0.8 -1.675,0.65V-0.65Q-1.675,-0.8 -1.525,-0.8Z",
   "M-0.975,-0.8H0.975Q1.125,-0.8 1.125,-0.65V0.65Q1.125,0.8 0.975,0.8H-0.975Q-1.125,0.8 -1.125,0.65V-0.65Q-1.125,-0.8 -0.975,-0.8Z",
   "M-1.45,-0.8H1.45Q1.6,-0.8 1.6,-0.65V0.65Q1.6,0.8 1.45,0.8H-1.45Q-1.6,0.8 -1.6,0.65V-0.65Q-1.6,-0.8 -1.45,-0.8Z",
   "M-1.225,-0.8H1.225Q1.375,-0.8 1.375,-0.65V0.65Q1.375,0.8 1.225,0.8H-1.225Q-1.375,0.8 -1.375,0.65V-0.65Q-1.375,-0.8 -1.225,-0.8Z",
   "M-1.475,-0.8H1.475Q1.625,-0.8 1.625,-0.65V0.65Q1.625,0.8 1.475,0.8H-1.475Q-1.625,0.8 -1.625,0.65V-0.65Q-1.625,-0.8 -1.475,-0.8Z",
   "M-1.925,-0.8H1.925Q2.075,-0.8 2.075,-0.65V0.65Q2.075,0.8 1.925,0.8H-1.925Q-2.075,0.8 -2.075,0.65V-0.65Q-2.075,-0.8 -1.925,-0.8Z",
   "M-1.825,-0.8H1.825Q1.975,-0.8 1.975,-0.65V0.65Q1.975,0.8 1.825,0.8H-1.825Q-1.975,0.8 -1.975,0.65V-0.65Q-1.975,-0.8 -1.825,-0.8Z",
   "M-1.175,-0.8H1.175Q1.325,-0.8 1.325,-0.65V0.65Q1.325,0.8 1.175,0.8H-1.175Q-1.325,0.8 -1.325,0.65V-0.65Q-1.325,-0.8 -1.175,-0.8Z",
   "M-1.475,-0.8H1.475Q1.625,-0.8 1.625,-0.65V0.65Q1.625,0.8 1.475,0.8H-1.475Q-1.625,0.8 -1.625,0.65V-0.65Q-1.625,-0.8 -1.475,-0.8Z",
   "M-1.5,-0.8H1.5Q1.65,-0.8 1.65,-0.65V0.65Q1.65,0.8 1.5,0.8H-1.5Q-1.65,0.8 -1.65,0.65V-0.65Q-1.65,-0.8 -1.5,-0.8Z",
   "M-1.475,-0.8H1.475Q1.625,-0.8 1.625,-0.65V0.65Q1.625,0.8 1.475,0.8H-1.475Q-1.625,0.8 -1.625,0.65V-0.65Q-1.625,-0.8 -1.475,-0.8Z",
   "M-1.55,-0.8H1.55Q1.7,-0.8 1.7,-0.65V0.65Q1.7,0.8 1.55,0.8H-1.55Q-1.7,0.8 -1.7,0.65V-0.65Q-1.7,-0.8 -1.55,-0.8Z",
   "M-1.25,-0.8H1.25Q1.4,-0.8 1.4,-0.65V0.65Q1.4,0.8 1.25,0.8H-1.25Q-1.4,0.8 -1.4,0.65V-0.65Q-1.4,-0.8 -1.25,-0.8Z"]}}
 }},
{"data": {"name": "nodesB"},
 "mark": {"type": "text", "fontSize": 20, "color": "white"},
 "encoding": {
  "x": {"field": "lx", "type": "quantitative", "axis": null, "scale": {"domain": [0, 100], "range": [1300, 2120], "nice": false, "zero": false}},
  "y": {"field": "ly", "type": "quantitative", "axis": null, "scale": {"domain": [0, 100], "range": [40, 860], "nice": false, "zero": false}},
  "text": {"field": "id"}
 }},
{"data": {"values": [{"t": "b"}]},
 "mark": {"type": "text", "fontSize": 30, "fontWeight": "bold", "align": "left", "baseline": "alphabetic", "color": "black"},
 "encoding": {
  "x": {"datum": -13.2, "type": "quantitative", "axis": null, "scale": {"domain": [0, 100], "range": [1300, 2120], "nice": false, "zero": false}},
  "y": {"datum": -1.34, "type": "quantitative", "axis": null, "scale": {"domain": [0, 100], "range": [40, 860], "nice": false, "zero": false}},
  "text": {"field": "t"}
 }}
]
},
{
"layer": [
{"data": {"name": "genes"},
 "transform": [{"filter": "datum.kind == 'line'"}],
 "mark": {"type": "rule", "strokeWidth": 3.5, "strokeCap": "butt"},
 "encoding": {
  "x": {"field": "s", "type": "quantitative", "axis": null, "scale": {"domain": [112.8, 114.7], "range": [1212.7, 2154.8], "nice": false, "zero": false}},
  "x2": {"field": "e"},
  "y": {"field": "strand", "type": "nominal", "axis": null, "scale": {"type": "point", "domain": ["plus", "minus"], "range": [583, 610], "padding": 0}},
  "color": {"field": "strand", "type": "nominal", "legend": null, "scale": {"domain": ["plus", "minus"], "range": ["#3cb4bd", "#2a5fa8"]}}
 }},
{"data": {"name": "genes"},
 "transform": [{"filter": "datum.kind == 'exon'"}],
 "mark": {"type": "rule", "strokeCap": "butt", "strokeWidth": 19},
 "encoding": {
  "x": {"field": "s", "type": "quantitative", "axis": null, "scale": {"domain": [112.8, 114.7], "range": [1212.7, 2154.8], "nice": false, "zero": false}},
  "x2": {"field": "e"},
  "y": {"field": "strand", "type": "nominal", "axis": null, "scale": {"type": "point", "domain": ["plus", "minus"], "range": [583, 610], "padding": 0}},
  "color": {"field": "strand", "type": "nominal", "legend": null, "scale": {"domain": ["plus", "minus"], "range": ["#3cb4bd", "#2a5fa8"]}}
 }},
{"data": {"name": "geneLabels"},
 "transform": [{"filter": "datum.strand == 'plus'"}],
 "mark": {"type": "text", "fontSize": 19, "fontStyle": "italic", "dy": -21.5},
 "encoding": {
  "x": {"field": "pos", "type": "quantitative", "axis": null, "scale": {"domain": [112.8, 114.7], "range": [1212.7, 2154.8], "nice": false, "zero": false}},
  "y": {"field": "strand", "type": "nominal", "axis": null, "scale": {"type": "point", "domain": ["plus", "minus"], "range": [583, 610], "padding": 0}},
  "text": {"field": "gene"},
  "color": {"field": "strand", "type": "nominal", "legend": null, "scale": {"domain": ["plus", "minus"], "range": ["#3cb4bd", "#2a5fa8"]}}
 }},
{"data": {"name": "geneLabels"},
 "transform": [{"filter": "datum.strand == 'minus'"}],
 "mark": {"type": "text", "fontSize": 19, "fontStyle": "italic", "dy": 20.5},
 "encoding": {
  "x": {"field": "pos", "type": "quantitative", "axis": null, "scale": {"domain": [112.8, 114.7], "range": [1212.7, 2154.8], "nice": false, "zero": false}},
  "y": {"field": "strand", "type": "nominal", "axis": null, "scale": {"type": "point", "domain": ["plus", "minus"], "range": [583, 610], "padding": 0}},
  "text": {"field": "gene"},
  "color": {"field": "strand", "type": "nominal", "legend": null, "scale": {"domain": ["plus", "minus"], "range": ["#3cb4bd", "#2a5fa8"]}}
 }},
{"data": {"values": [{"strand": "plus", "sym": "+"}, {"strand": "minus", "sym": "–"}]},
 "mark": {"type": "text", "fontSize": 20, "dx": -14, "color": "#3cb4bd"},
 "encoding": {
  "x": {"datum": 112.8, "type": "quantitative", "axis": null, "scale": {"domain": [112.8, 114.7], "range": [1212.7, 2154.8], "nice": false, "zero": false}},
  "y": {"field": "strand", "type": "nominal", "axis": null, "scale": {"type": "point", "domain": ["plus", "minus"], "range": [583, 610], "padding": 0}},
  "text": {"field": "sym"}
 }},
{"data": {"values": [{"a": 112.8, "b": 114.7, "strand": "minus"}]},
 "mark": {"type": "rule", "strokeWidth": 2, "color": "#111", "yOffset": 37.3},
 "encoding": {
  "x": {"field": "a", "type": "quantitative", "axis": null, "scale": {"domain": [112.8, 114.7], "range": [1212.7, 2154.8], "nice": false, "zero": false}},
  "x2": {"field": "b"},
  "y": {"field": "strand", "type": "nominal", "axis": null, "scale": {"type": "point", "domain": ["plus", "minus"], "range": [583, 610], "padding": 0}}
 }},
{"data": {"values": [{"pos": 112.8, "t": "~112.8 Mb", "strand": "minus"}]},
 "mark": {"type": "text", "fontSize": 20, "align": "left", "dy": 57, "color": "#111"},
 "encoding": {
  "x": {"field": "pos", "type": "quantitative", "axis": null, "scale": {"domain": [112.8, 114.7], "range": [1212.7, 2154.8], "nice": false, "zero": false}},
  "y": {"field": "strand", "type": "nominal", "axis": null, "scale": {"type": "point", "domain": ["plus", "minus"], "range": [583, 610], "padding": 0}},
  "text": {"field": "t"}
 }},
{"data": {"values": [{"pos": 113.755, "t": "Chr. 11", "strand": "minus"}]},
 "mark": {"type": "text", "fontSize": 20, "align": "center", "dy": 57, "color": "#111"},
 "encoding": {
  "x": {"field": "pos", "type": "quantitative", "axis": null, "scale": {"domain": [112.8, 114.7], "range": [1212.7, 2154.8], "nice": false, "zero": false}},
  "y": {"field": "strand", "type": "nominal", "axis": null, "scale": {"type": "point", "domain": ["plus", "minus"], "range": [583, 610], "padding": 0}},
  "text": {"field": "t"}
 }},
{"data": {"values": [{"pos": 114.7, "t": "~114.7 Mb", "strand": "minus"}]},
 "mark": {"type": "text", "fontSize": 20, "align": "right", "dx": 9, "dy": 57, "color": "#111"},
 "encoding": {
  "x": {"field": "pos", "type": "quantitative", "axis": null, "scale": {"domain": [112.8, 114.7], "range": [1212.7, 2154.8], "nice": false, "zero": false}},
  "y": {"field": "strand", "type": "nominal", "axis": null, "scale": {"type": "point", "domain": ["plus", "minus"], "range": [583, 610], "padding": 0}},
  "text": {"field": "t"}
 }}
]
},
{
"layer": [
{"data": {"values": [{"a": "P1", "b": "P", "k": "ANX-MD"}]},
 "mark": {"type": "rule", "strokeWidth": 2, "color": "#555", "yOffset": -46, "xOffset": -43.5, "x2Offset": 55.5},
 "encoding": {
  "x": {"field": "a", "type": "nominal", "axis": null, "scale": {"type": "point", "domain": ["P1","P2","Rho","CIl","CIu","R2","P"], "range": [1288.5, 2059.9], "padding": 0}},
  "x2": {"field": "b"},
  "y": {"field": "k", "type": "nominal", "axis": null, "scale": {"type": "point", "domain": ["ANX-MD","ANX-PTSD","MD-PTSD","MD-SCZ","AUD-MD","ADHD-MD","ANX-SCZ","BIP-MD","ADHD-ANX","ANX-AUD","PTSD-SCZ","AUD-PTSD","ADHD-PTSD","AUD-CUD","BIP-SCZ","ADHD-AUD","AUD-SCZ"], "range": [776, 1220.7], "padding": 0}}
 }},
{"data": {"values": [{"a": "P1", "b": "P", "k": "ANX-MD"}]},
 "mark": {"type": "rule", "strokeWidth": 2.5, "color": "#555", "yOffset": -14.7, "xOffset": -43.5, "x2Offset": 55.5},
 "encoding": {
  "x": {"field": "a", "type": "nominal", "axis": null, "scale": {"type": "point", "domain": ["P1","P2","Rho","CIl","CIu","R2","P"], "range": [1288.5, 2059.9], "padding": 0}},
  "x2": {"field": "b"},
  "y": {"field": "k", "type": "nominal", "axis": null, "scale": {"type": "point", "domain": ["ANX-MD","ANX-PTSD","MD-PTSD","MD-SCZ","AUD-MD","ADHD-MD","ANX-SCZ","BIP-MD","ADHD-ANX","ANX-AUD","PTSD-SCZ","AUD-PTSD","ADHD-PTSD","AUD-CUD","BIP-SCZ","ADHD-AUD","AUD-SCZ"], "range": [776, 1220.7], "padding": 0}}
 }},
{"data": {"values": [{"a": "P1", "b": "P", "k": "AUD-SCZ"}]},
 "mark": {"type": "rule", "strokeWidth": 2, "color": "#333", "yOffset": 12.6, "xOffset": -43.5, "x2Offset": 55.5},
 "encoding": {
  "x": {"field": "a", "type": "nominal", "axis": null, "scale": {"type": "point", "domain": ["P1","P2","Rho","CIl","CIu","R2","P"], "range": [1288.5, 2059.9], "padding": 0}},
  "x2": {"field": "b"},
  "y": {"field": "k", "type": "nominal", "axis": null, "scale": {"type": "point", "domain": ["ANX-MD","ANX-PTSD","MD-PTSD","MD-SCZ","AUD-MD","ADHD-MD","ANX-SCZ","BIP-MD","ADHD-ANX","ANX-AUD","PTSD-SCZ","AUD-PTSD","ADHD-PTSD","AUD-CUD","BIP-SCZ","ADHD-AUD","AUD-SCZ"], "range": [776, 1220.7], "padding": 0}}
 }},
{"data": {"values": [{"c": "P1", "t": "P1", "k": "ANX-MD", "dx": 0}, {"c": "P2", "t": "P2", "k": "ANX-MD", "dx": 3}, {"c": "Rho", "t": "Rho", "k": "ANX-MD", "dx": 16}, {"c": "CIl", "t": "CI", "k": "ANX-MD", "dx": -13}, {"c": "CIu", "t": "CI", "k": "ANX-MD", "dx": -15}]},
 "mark": {"type": "text", "fontSize": 20, "color": "#222", "dy": -30},
 "encoding": {
  "x": {"field": "c", "type": "nominal", "axis": null, "scale": {"type": "point", "domain": ["P1","P2","Rho","CIl","CIu","R2","P"], "range": [1288.5, 2059.9], "padding": 0}},
  "xOffset": {"field": "dx", "type": "quantitative", "scale": null},
  "y": {"field": "k", "type": "nominal", "axis": null, "scale": {"type": "point", "domain": ["ANX-MD","ANX-PTSD","MD-PTSD","MD-SCZ","AUD-MD","ADHD-MD","ANX-SCZ","BIP-MD","ADHD-ANX","ANX-AUD","PTSD-SCZ","AUD-PTSD","ADHD-PTSD","AUD-CUD","BIP-SCZ","ADHD-AUD","AUD-SCZ"], "range": [776, 1220.7], "padding": 0}},
  "text": {"field": "t"}
 }},
{"data": {"values": [{"c": "R2", "t": "R", "k": "ANX-MD", "dx": 6}, {"c": "P", "t": "P", "k": "ANX-MD", "dx": 2}]},
 "mark": {"type": "text", "fontSize": 20, "fontStyle": "italic", "color": "#222", "dy": -30},
 "encoding": {
  "x": {"field": "c", "type": "nominal", "axis": null, "scale": {"type": "point", "domain": ["P1","P2","Rho","CIl","CIu","R2","P"], "range": [1288.5, 2059.9], "padding": 0}},
  "xOffset": {"field": "dx", "type": "quantitative", "scale": null},
  "y": {"field": "k", "type": "nominal", "axis": null, "scale": {"type": "point", "domain": ["ANX-MD","ANX-PTSD","MD-PTSD","MD-SCZ","AUD-MD","ADHD-MD","ANX-SCZ","BIP-MD","ADHD-ANX","ANX-AUD","PTSD-SCZ","AUD-PTSD","ADHD-PTSD","AUD-CUD","BIP-SCZ","ADHD-AUD","AUD-SCZ"], "range": [776, 1220.7], "padding": 0}},
  "text": {"field": "t"}
 }},
{"data": {"values": [{"c": "CIl", "t": "lower", "k": "ANX-MD", "dx": -2}, {"c": "CIu", "t": "upper", "k": "ANX-MD", "dx": -6}, {"c": "R2", "t": "2", "k": "ANX-MD", "dx": 13}]},
 "mark": {"type": "text", "fontSize": 13, "color": "#222", "align": "left", "dy": -39},
 "encoding": {
  "x": {"field": "c", "type": "nominal", "axis": null, "scale": {"type": "point", "domain": ["P1","P2","Rho","CIl","CIu","R2","P"], "range": [1288.5, 2059.9], "padding": 0}},
  "xOffset": {"field": "dx", "type": "quantitative", "scale": null},
  "y": {"field": "k", "type": "nominal", "axis": null, "scale": {"type": "point", "domain": ["ANX-MD","ANX-PTSD","MD-PTSD","MD-SCZ","AUD-MD","ADHD-MD","ANX-SCZ","BIP-MD","ADHD-ANX","ANX-AUD","PTSD-SCZ","AUD-PTSD","ADHD-PTSD","AUD-CUD","BIP-SCZ","ADHD-AUD","AUD-SCZ"], "range": [776, 1220.7], "padding": 0}},
  "text": {"field": "t"}
 }},
{"data": {"name": "tbl"},
 "transform": [{"calculate": "datum.p1 + '-' + datum.p2", "as": "k"}],
 "mark": {"type": "text", "fontSize": 20},
 "encoding": {
  "x": {"datum": "P1", "type": "nominal", "axis": null, "scale": {"type": "point", "domain": ["P1","P2","Rho","CIl","CIu","R2","P"], "range": [1288.5, 2059.9], "padding": 0}},
  "y": {"field": "k", "type": "nominal", "axis": null, "scale": {"type": "point", "domain": ["ANX-MD","ANX-PTSD","MD-PTSD","MD-SCZ","AUD-MD","ADHD-MD","ANX-SCZ","BIP-MD","ADHD-ANX","ANX-AUD","PTSD-SCZ","AUD-PTSD","ADHD-PTSD","AUD-CUD","BIP-SCZ","ADHD-AUD","AUD-SCZ"], "range": [776, 1220.7], "padding": 0}},
  "text": {"field": "p1"},
  "color": {"field": "p1", "type": "nominal", "legend": null, "scale": {"domain": ["AN","OCD","TS","SCZ","BIP","ASD","ADHD","PTSD","MD","ANX","CUD","AUD","OUD","NIC"], "range": ["#b3954f","#b3954f","#b3954f","#74a6cf","#74a6cf","#56a383","#56a383","#dc9150","#dc9150","#dc9150","#41607e","#41607e","#41607e","#41607e"]}}
 }},
{"data": {"name": "tbl"},
 "transform": [{"calculate": "datum.p1 + '-' + datum.p2", "as": "k"}],
 "mark": {"type": "text", "fontSize": 20, "dx": 3},
 "encoding": {
  "x": {"datum": "P2", "type": "nominal", "axis": null, "scale": {"type": "point", "domain": ["P1","P2","Rho","CIl","CIu","R2","P"], "range": [1288.5, 2059.9], "padding": 0}},
  "y": {"field": "k", "type": "nominal", "axis": null, "scale": {"type": "point", "domain": ["ANX-MD","ANX-PTSD","MD-PTSD","MD-SCZ","AUD-MD","ADHD-MD","ANX-SCZ","BIP-MD","ADHD-ANX","ANX-AUD","PTSD-SCZ","AUD-PTSD","ADHD-PTSD","AUD-CUD","BIP-SCZ","ADHD-AUD","AUD-SCZ"], "range": [776, 1220.7], "padding": 0}},
  "text": {"field": "p2"},
  "color": {"field": "p2", "type": "nominal", "legend": null, "scale": {"domain": ["AN","OCD","TS","SCZ","BIP","ASD","ADHD","PTSD","MD","ANX","CUD","AUD","OUD","NIC"], "range": ["#b3954f","#b3954f","#b3954f","#74a6cf","#74a6cf","#56a383","#56a383","#dc9150","#dc9150","#dc9150","#41607e","#41607e","#41607e","#41607e"]}}
 }},
{"data": {"name": "tbl"},
 "transform": [{"calculate": "datum.p1 + '-' + datum.p2", "as": "k"}],
 "mark": {"type": "text", "fontSize": 20, "color": "#555", "dx": 16},
 "encoding": {
  "x": {"datum": "Rho", "type": "nominal", "axis": null, "scale": {"type": "point", "domain": ["P1","P2","Rho","CIl","CIu","R2","P"], "range": [1288.5, 2059.9], "padding": 0}},
  "y": {"field": "k", "type": "nominal", "axis": null, "scale": {"type": "point", "domain": ["ANX-MD","ANX-PTSD","MD-PTSD","MD-SCZ","AUD-MD","ADHD-MD","ANX-SCZ","BIP-MD","ADHD-ANX","ANX-AUD","PTSD-SCZ","AUD-PTSD","ADHD-PTSD","AUD-CUD","BIP-SCZ","ADHD-AUD","AUD-SCZ"], "range": [776, 1220.7], "padding": 0}},
  "text": {"field": "rho", "type": "quantitative", "format": ".2f"}
 }},
{"data": {"name": "tbl"},
 "transform": [{"calculate": "datum.p1 + '-' + datum.p2", "as": "k"}],
 "mark": {"type": "text", "fontSize": 20, "color": "#555", "dx": 2},
 "encoding": {
  "x": {"datum": "CIl", "type": "nominal", "axis": null, "scale": {"type": "point", "domain": ["P1","P2","Rho","CIl","CIu","R2","P"], "range": [1288.5, 2059.9], "padding": 0}},
  "y": {"field": "k", "type": "nominal", "axis": null, "scale": {"type": "point", "domain": ["ANX-MD","ANX-PTSD","MD-PTSD","MD-SCZ","AUD-MD","ADHD-MD","ANX-SCZ","BIP-MD","ADHD-ANX","ANX-AUD","PTSD-SCZ","AUD-PTSD","ADHD-PTSD","AUD-CUD","BIP-SCZ","ADHD-AUD","AUD-SCZ"], "range": [776, 1220.7], "padding": 0}},
  "text": {"field": "lo", "type": "quantitative", "format": ".2f"}
 }},
{"data": {"name": "tbl"},
 "transform": [{"calculate": "datum.p1 + '-' + datum.p2", "as": "k"}],
 "mark": {"type": "text", "fontSize": 20, "color": "#555", "dx": 1.5},
 "encoding": {
  "x": {"datum": "CIu", "type": "nominal", "axis": null, "scale": {"type": "point", "domain": ["P1","P2","Rho","CIl","CIu","R2","P"], "range": [1288.5, 2059.9], "padding": 0}},
  "y": {"field": "k", "type": "nominal", "axis": null, "scale": {"type": "point", "domain": ["ANX-MD","ANX-PTSD","MD-PTSD","MD-SCZ","AUD-MD","ADHD-MD","ANX-SCZ","BIP-MD","ADHD-ANX","ANX-AUD","PTSD-SCZ","AUD-PTSD","ADHD-PTSD","AUD-CUD","BIP-SCZ","ADHD-AUD","AUD-SCZ"], "range": [776, 1220.7], "padding": 0}},
  "text": {"field": "hi", "type": "quantitative", "format": ".2f"}
 }},
{"data": {"name": "tbl"},
 "transform": [{"calculate": "datum.p1 + '-' + datum.p2", "as": "k"}],
 "mark": {"type": "text", "fontSize": 20, "color": "#555", "dx": 9},
 "encoding": {
  "x": {"datum": "R2", "type": "nominal", "axis": null, "scale": {"type": "point", "domain": ["P1","P2","Rho","CIl","CIu","R2","P"], "range": [1288.5, 2059.9], "padding": 0}},
  "y": {"field": "k", "type": "nominal", "axis": null, "scale": {"type": "point", "domain": ["ANX-MD","ANX-PTSD","MD-PTSD","MD-SCZ","AUD-MD","ADHD-MD","ANX-SCZ","BIP-MD","ADHD-ANX","ANX-AUD","PTSD-SCZ","AUD-PTSD","ADHD-PTSD","AUD-CUD","BIP-SCZ","ADHD-AUD","AUD-SCZ"], "range": [776, 1220.7], "padding": 0}},
  "text": {"field": "r2", "type": "quantitative", "format": ".2f"}
 }},
{"data": {"name": "tbl"},
 "transform": [{"calculate": "datum.p1 + '-' + datum.p2", "as": "k"}, {"calculate": "format(datum.pm, '.1f') + ' x 10'", "as": "pt"}],
 "mark": {"type": "text", "fontSize": 20, "color": "#555", "align": "right", "dx": 30},
 "encoding": {
  "x": {"datum": "P", "type": "nominal", "axis": null, "scale": {"type": "point", "domain": ["P1","P2","Rho","CIl","CIu","R2","P"], "range": [1288.5, 2059.9], "padding": 0}},
  "y": {"field": "k", "type": "nominal", "axis": null, "scale": {"type": "point", "domain": ["ANX-MD","ANX-PTSD","MD-PTSD","MD-SCZ","AUD-MD","ADHD-MD","ANX-SCZ","BIP-MD","ADHD-ANX","ANX-AUD","PTSD-SCZ","AUD-PTSD","ADHD-PTSD","AUD-CUD","BIP-SCZ","ADHD-AUD","AUD-SCZ"], "range": [776, 1220.7], "padding": 0}},
  "text": {"field": "pt"}
 }},
{"data": {"name": "tbl"},
 "transform": [{"calculate": "datum.p1 + '-' + datum.p2", "as": "k"}, {"calculate": "'-' + (abs(datum.pe) < 10 ? '0' : '') + abs(datum.pe)", "as": "ex"}],
 "mark": {"type": "text", "fontSize": 13, "color": "#555", "align": "left", "dx": 32, "dy": -8},
 "encoding": {
  "x": {"datum": "P", "type": "nominal", "axis": null, "scale": {"type": "point", "domain": ["P1","P2","Rho","CIl","CIu","R2","P"], "range": [1288.5, 2059.9], "padding": 0}},
  "y": {"field": "k", "type": "nominal", "axis": null, "scale": {"type": "point", "domain": ["ANX-MD","ANX-PTSD","MD-PTSD","MD-SCZ","AUD-MD","ADHD-MD","ANX-SCZ","BIP-MD","ADHD-ANX","ANX-AUD","PTSD-SCZ","AUD-PTSD","ADHD-PTSD","AUD-CUD","BIP-SCZ","ADHD-AUD","AUD-SCZ"], "range": [776, 1220.7], "padding": 0}},
  "text": {"field": "ex"}
 }}
]
}
]
}
